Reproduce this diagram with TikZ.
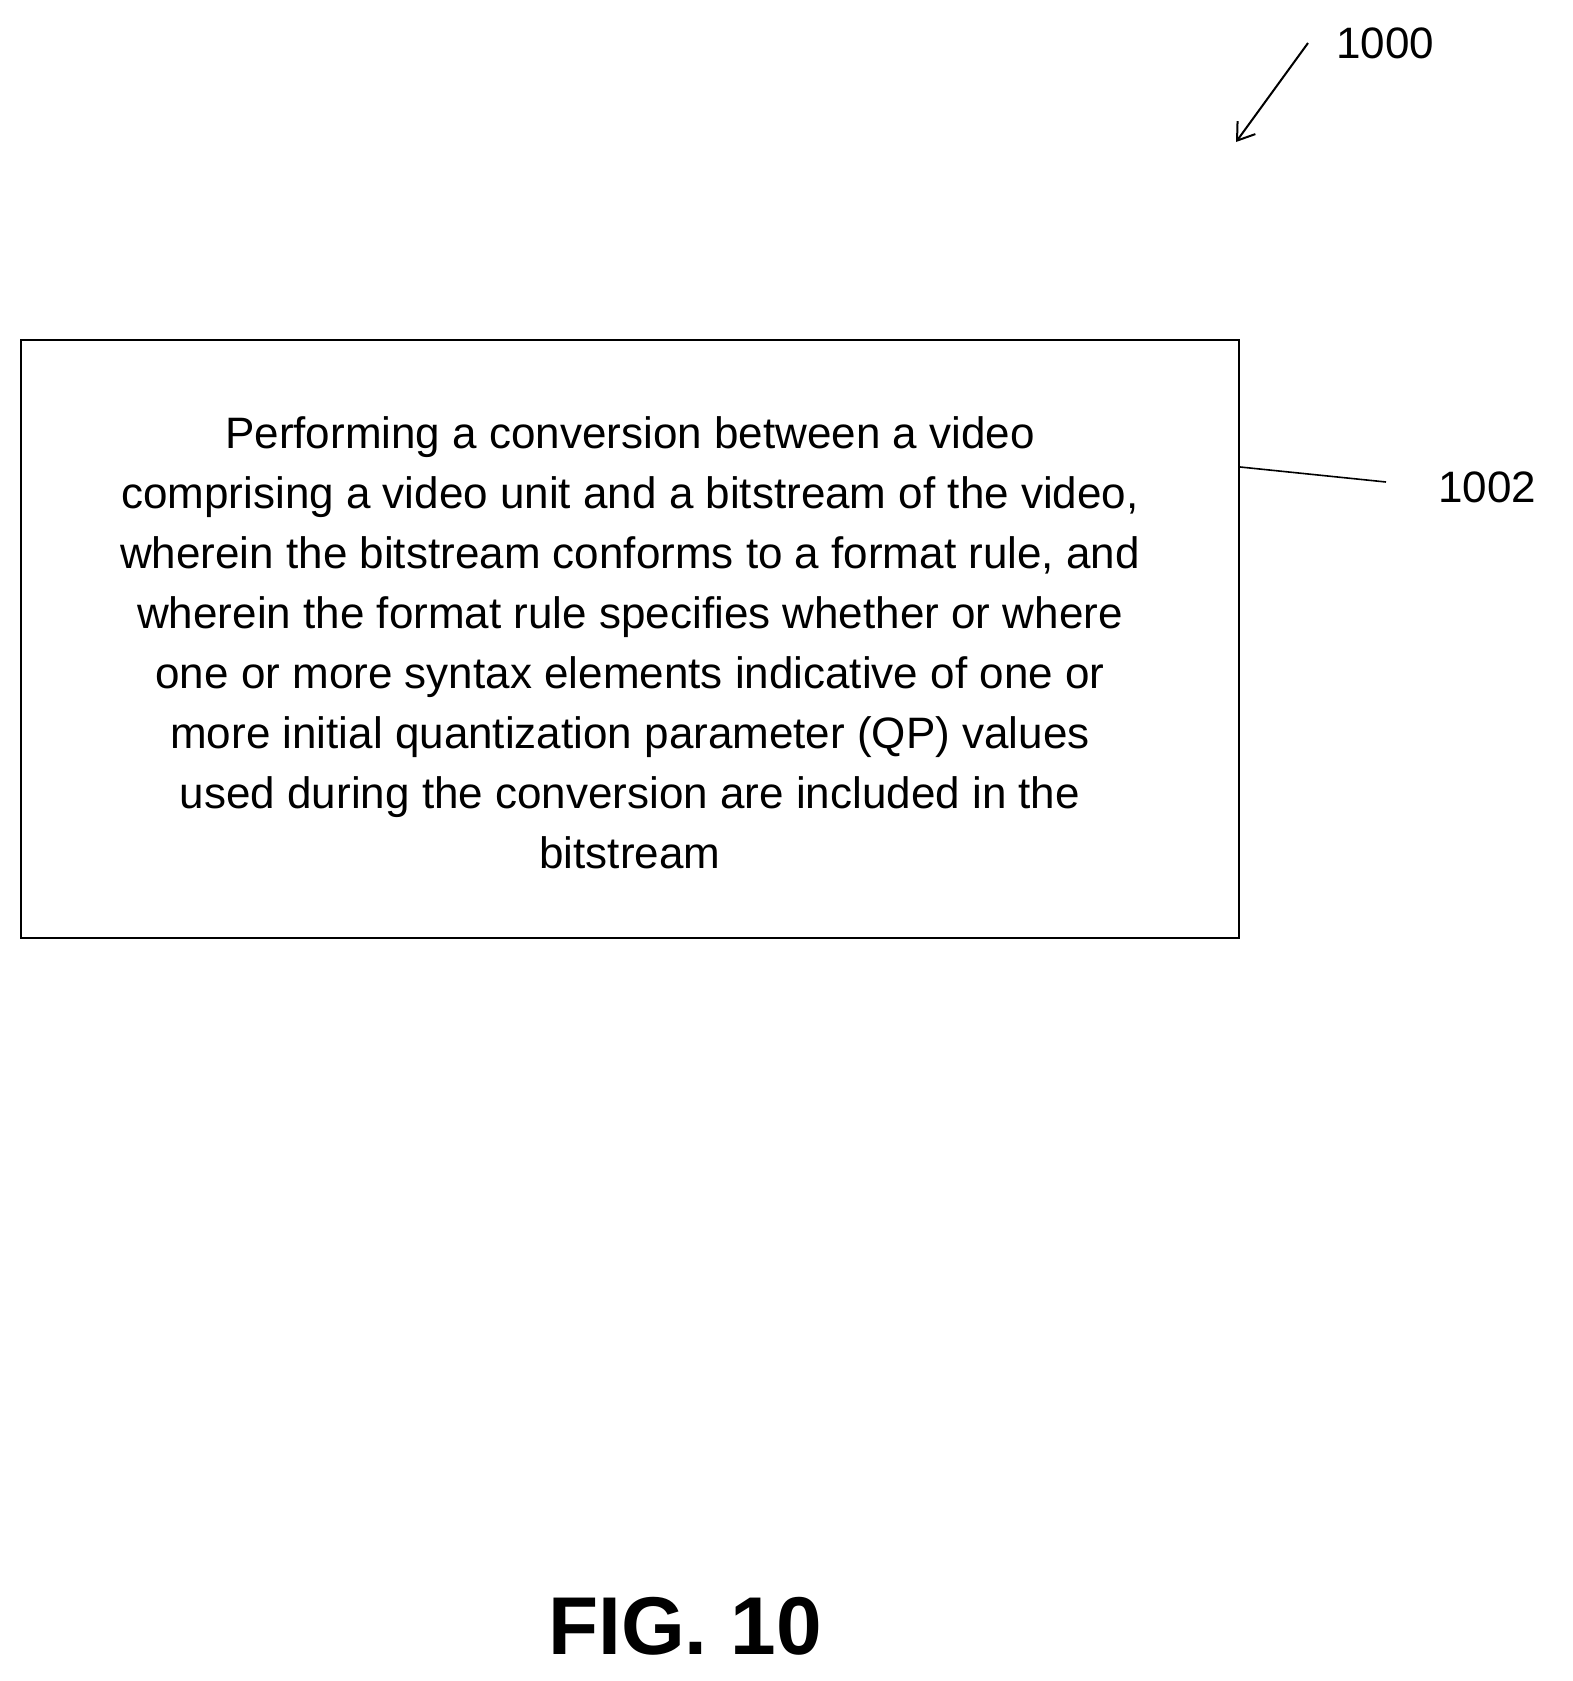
\documentclass[tikz,border=0pt]{standalone}
\usepackage{fontspec}
\usetikzlibrary{arrows.meta}
\setmainfont{Liberation Sans}
\begin{document}
\begin{tikzpicture}[x=1pt,y=-1pt,
  lbl/.style={font=\fontsize{44}{52}\selectfont, inner sep=0pt},
  ln/.style={line width=2pt}]
\useasboundingbox (0,0) rectangle (1573,1681);
\node[draw, line width=2.2pt, minimum width=1218pt, minimum height=598pt, inner sep=0pt] (box) at (630,639) {};
\node[align=center, font=\fontsize{44}{60}\selectfont] (txt) at (630,643) {Performing a conversion between a video\\comprising a video unit and a bitstream of the video,\\wherein the bitstream conforms to a format rule, and\\wherein the format rule specifies whether or where\\one or more syntax elements indicative of one or\\more initial quantization parameter (QP) values\\used during the conversion are included in the\\bitstream};
\node[lbl] (l1000) at (1385,43) {1000};
\coordinate (a0) at (1308,43);
\coordinate (a1) at (1236,142);
\draw[ln,-{Straight Barb[length=16pt,width=22pt]}] (a0) -- (a1);
\node[lbl] (l1002) at (1487,487) {1002};
\coordinate (c0) at (1386,482);
\draw[line width=1.6pt] (box.east |- 0,467) -- (c0);
\node[font=\bfseries\fontsize{82}{90}\selectfont] (fig) at (685,1626) {FIG. 10};
\end{tikzpicture}
\end{document}
